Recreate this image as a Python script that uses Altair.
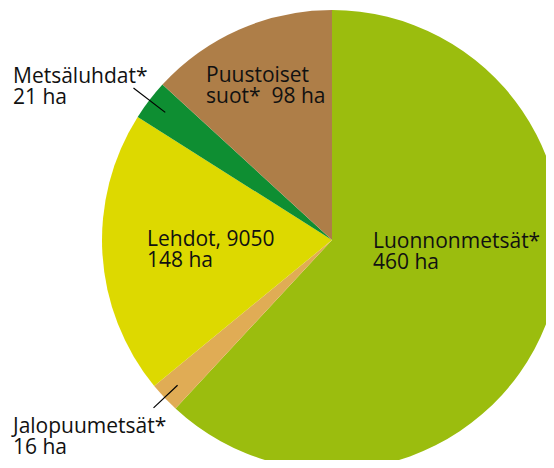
import math
import altair as alt
import pandas as pd

# Data
categories = ["Luonnonmetsät*", "Jalopuumetsät*", "Lehdot, 9050", "Metsäluhdat*", "Puustoiset suot*"]
values_ha = [460, 16, 148, 21, 98]
labels = [
    "Luonnonmetsät*\n460 ha",
    "Jalopuumetsät*\n16 ha",
    "Lehdot, 9050\n148 ha",
    "Metsäluhdat*\n21 ha",
    "Puustoiset\nsuot*\u00a0 98 ha",
]
colors = ["#9BBD0E", "#E0AC55", "#DDD900", "#0E8E32", "#AE7E48"]

# Layout (pixel positions within the chart)
CX, CY, R = 324, 232, 230
label_xy = [(365, 240), (5, 425), (139, 238), (5, 75), (198, 74)]
leaders = {"Jalopuumetsät*": (212, 245), "Metsäluhdat*": (210, 250)}

df = pd.DataFrame({
    "cat": categories,
    "val": values_ha,
    "order": list(range(len(categories))),
})

total = sum(values_ha)
rows = []
cum = 0
for c, v in zip(categories, values_ha):
    mid = (cum + v / 2) / total * 2 * math.pi
    cum += v
    if c in leaders:
        r1, r2 = leaders[c]
        rows.append({
            "x": CX + r1 * math.sin(mid), "y": CY - r1 * math.cos(mid),
            "x2": CX + r2 * math.sin(mid), "y2": CY - r2 * math.cos(mid),
        })
lines_df = pd.DataFrame(rows)

lab_df = pd.DataFrame({
    "text": labels,
    "lx": [p[0] for p in label_xy],
    "ly": [p[1] for p in label_xy],
})

pie = alt.Chart(df).mark_arc(outerRadius=R, stroke=None).encode(
    theta=alt.Theta("val:Q", stack=True),
    order=alt.Order("order:Q"),
    color=alt.Color("cat:N", scale=alt.Scale(domain=categories, range=colors), legend=None),
    x=alt.value(CX),
    y=alt.value(CY),
)

lines = alt.Chart(lines_df).mark_rule(color="#000000", strokeWidth=1.2).encode(
    x=alt.X("x:Q", scale=None),
    y=alt.Y("y:Q", scale=None),
    x2="x2:Q",
    y2="y2:Q",
)

text = alt.Chart(lab_df).mark_text(
    align="left", baseline="alphabetic", lineBreak="\n", lineHeight=21,
    font="Open Sans", fontSize=21, color="#111111",
).encode(
    x=alt.X("lx:Q", scale=None),
    y=alt.Y("ly:Q", scale=None),
    text="text:N",
)

chart = alt.layer(pie, lines, text).properties(
    width=538, height=452,
    autosize=alt.AutoSizeParams(type="none"),
    padding=0,
).configure_view(stroke=None)

chart.save("out.html", embed_options={"renderer": "svg", "actions": False})
